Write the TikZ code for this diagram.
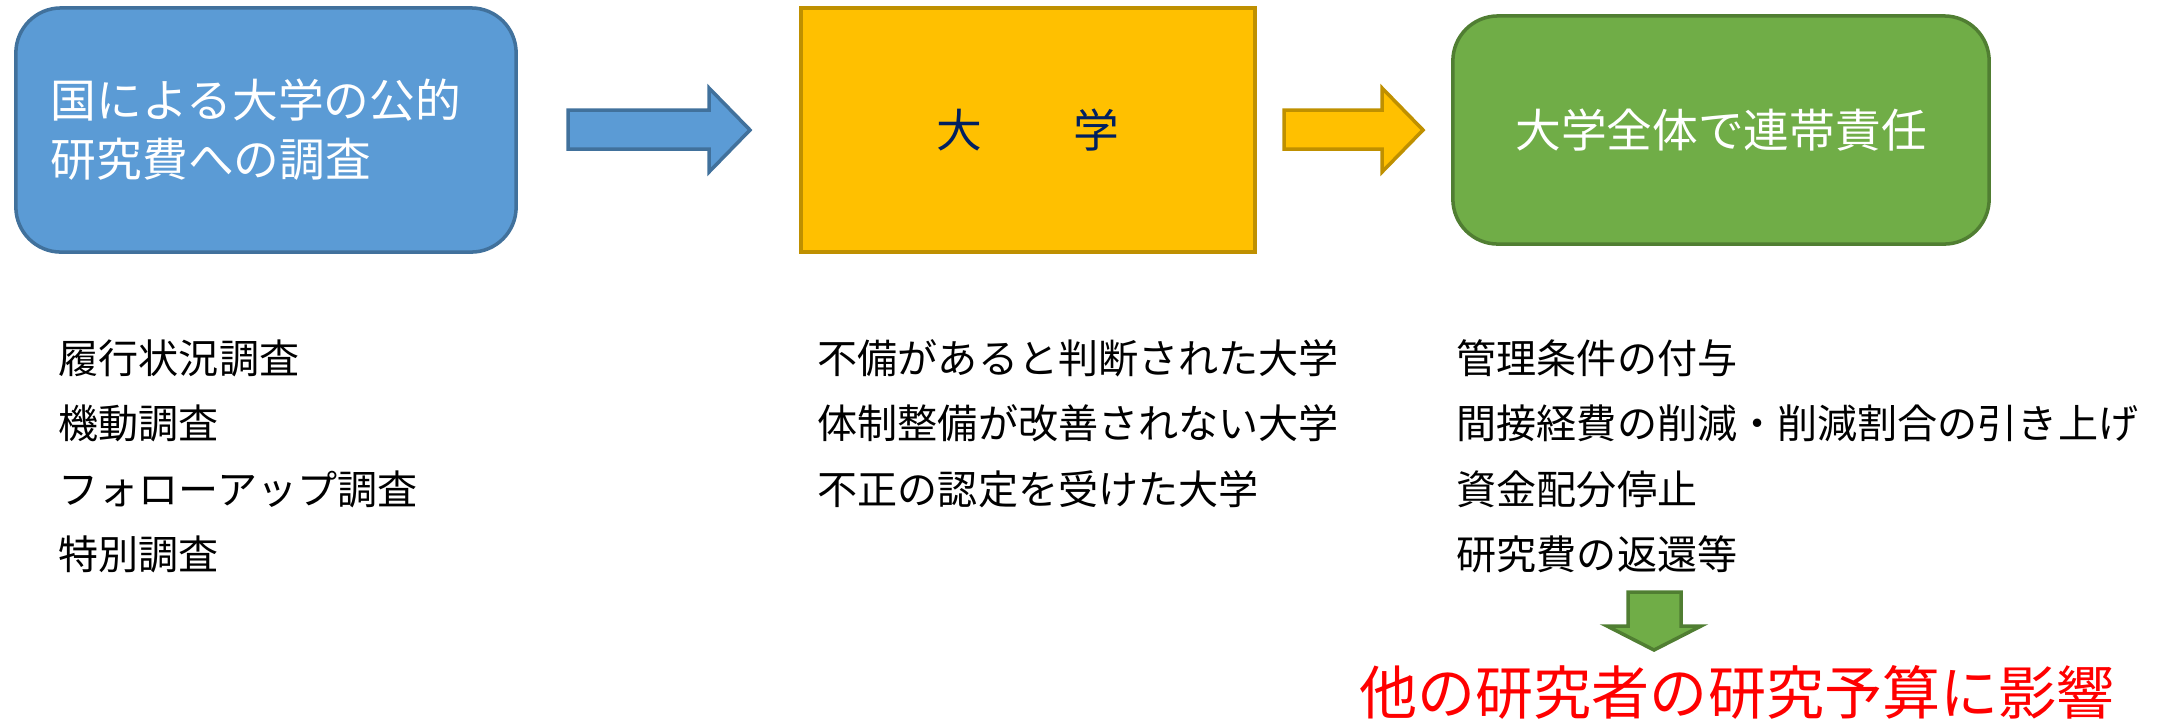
\documentclass[tikz,border=0pt]{standalone}
\usepackage{fontspec}
\setmainfont{Noto Sans CJK JP}
\usetikzlibrary{positioning}

\definecolor{boxblue}{HTML}{5B9BD5}
\definecolor{lineblue}{HTML}{41719C}
\definecolor{boxyellow}{HTML}{FFC000}
\definecolor{lineyellow}{HTML}{BF9000}
\definecolor{boxgreen}{HTML}{70AD47}
\definecolor{linegreen}{HTML}{507E32}
\definecolor{navy}{HTML}{002060}

\begin{document}
\begin{tikzpicture}[x=0.01cm, y=-0.01cm,
  box/.style={minimum height=2.44cm, line width=1pt, text=white,
    font=\fontsize{13pt}{16.8pt}\selectfont},
  item/.style={anchor=west, inner sep=0pt, font=\fontsize{11.4pt}{14pt}\selectfont},
  blockarrow/.style={line width=1pt, line join=miter}]
\useasboundingbox (0,0) rectangle (2158,720);

% the three stages
\node[box, fill=boxblue, draw=lineblue, rounded corners=0.45cm,
  minimum width=5cm, text width=4.3cm, align=left] (survey) at (266,130)
  {国による大学の公的\\研究費への調査};
\node[box, fill=boxyellow, draw=lineyellow, minimum width=4.54cm, text=navy] (univ) at (1028,130)
  {大　　学};
\node[box, fill=boxgreen, draw=linegreen, rounded corners=0.45cm,
  minimum width=5.36cm, minimum height=2.28cm] (liability) at (1721,130)
  {大学全体で連帯責任};

% block arrows between the stages
\draw[blockarrow, fill=boxblue, draw=lineblue]
  (568,110) -- (709,110) -- (709,88) -- (750,130) -- (709,172) -- (709,149) -- (568,149) -- cycle;
\draw[blockarrow, fill=boxyellow, draw=lineyellow]
  (1284,110) -- (1382,110) -- (1382,88) -- (1423,130) -- (1382,172) -- (1382,149) -- (1284,149) -- cycle;

% lists under each stage
\foreach \t [count=\i] in {履行状況調査, 機動調査, フォローアップ調査, 特別調査}
  \node[item] (survey-\i) at (58, {292.5+65.5*\i}) {\t};
\foreach \t [count=\i] in {不備があると判断された大学, 体制整備が改善されない大学, 不正の認定を受けた大学}
  \node[item] (univ-\i) at (817, {292.5+65.5*\i}) {\t};
\foreach \t [count=\i] in {管理条件の付与, 間接経費の削減・削減割合の引き上げ, 資金配分停止, 研究費の返還等}
  \node[item] (liability-\i) at (1456, {292.5+65.5*\i}) {\t};

% down arrow and the result
\draw[blockarrow, fill=boxgreen, draw=linegreen]
  (1628,592) -- (1681,592) -- (1681,626) -- (1701,626) -- (1654,650) -- (1607,626) -- (1628,626) -- cycle;
\node[text=red, inner sep=0pt, font=\fontsize{16.5pt}{20pt}\selectfont] (effect) at (1737,692)
  {他の研究者の研究予算に影響};

\end{tikzpicture}
\end{document}
